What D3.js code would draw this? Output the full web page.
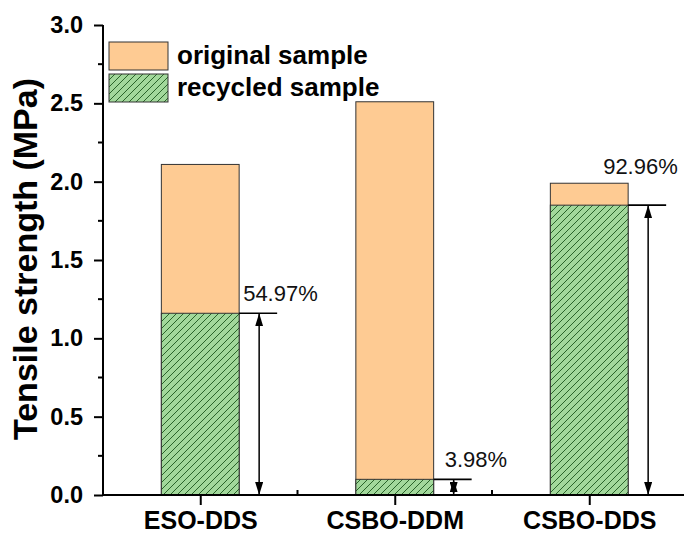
<!DOCTYPE html>
<html>
<head>
<meta charset="utf-8">
<script src="https://cdn.jsdelivr.net/npm/d3@7/dist/d3.min.js"></script>
<style>
  html, body { margin: 0; padding: 0; background: #fff; }
  svg { display: block; font-family: "Liberation Sans", Arial, sans-serif; }
</style>
</head>
<body>
<svg id="chart" width="684" height="535"></svg>
<script>
// Tensile strength of original vs. recycled samples
const categories = ["ESO-DDS", "CSBO-DDM", "CSBO-DDS"];
const originalValues = [2.11, 2.51, 1.99];
const recycledValues = [1.16, 0.10, 1.85];
const retentionLabels = ["54.97%", "3.98%", "92.96%"];
const yTicks = [0, 0.5, 1.0, 1.5, 2.0, 2.5, 3.0];
const yMinorTicks = [0.25, 0.75, 1.25, 1.75, 2.25, 2.75];
const seriesNames = ["original sample", "recycled sample"];

// label placement relative to the bar's right edge / recycled top
const labelOffsets = [[4, -12], [11, -12], [-25, -31]];

const svg = d3.select("#chart");
const plotLeft = 103, plotRight = 686.5, plotTop = 25, plotBottom = 495;

const x = d3.scalePoint().domain(categories).range([plotLeft, plotRight]).padding(0.5);
const step = x.step();
const barW = step * 0.4;
const y = d3.scaleLinear().domain([0, 3]).range([plotBottom, plotTop]);

const origFill = "#fecb93";
const recFill = "#a2d89b";
const hatchColor = "#2a642a";

// diagonal hatch for recycled bars
const defs = svg.append("defs");
const pat = defs.append("pattern")
  .attr("id", "hatch").attr("patternUnits", "userSpaceOnUse")
  .attr("width", 7).attr("height", 7);
pat.append("rect").attr("width", 7).attr("height", 7).attr("fill", recFill);
pat.append("path")
  .attr("d", "M-1,1 l2,-2 M0,7 l7,-7 M6,8 l2,-2")
  .attr("stroke", hatchColor).attr("stroke-width", 1);

const arrowHead = (id, orient) => defs.append("marker")
  .attr("id", id).attr("viewBox", "0 0 13 8")
  .attr("refX", 13).attr("refY", 4)
  .attr("markerWidth", 13).attr("markerHeight", 8)
  .attr("markerUnits", "userSpaceOnUse")
  .attr("orient", orient)
  .append("path").attr("d", "M0,0 L13,4 L0,8 Z").attr("fill", "#000");
arrowHead("arrowEnd", "auto");
arrowHead("arrowStart", "auto-start-reverse");

// bars: original behind, recycled in front
const g = svg.append("g");
g.selectAll("rect.orig").data(categories).join("rect")
  .attr("class", "orig")
  .attr("x", d => x(d) - barW / 2)
  .attr("width", barW)
  .attr("y", (d, i) => y(originalValues[i]))
  .attr("height", (d, i) => y(0) - y(originalValues[i]))
  .attr("fill", origFill).attr("stroke", "#333").attr("stroke-width", 1);

g.selectAll("rect.rec").data(categories).join("rect")
  .attr("class", "rec")
  .attr("x", d => x(d) - barW / 2)
  .attr("width", barW)
  .attr("y", (d, i) => y(recycledValues[i]))
  .attr("height", (d, i) => y(0) - y(recycledValues[i]))
  .attr("fill", "url(#hatch)").attr("stroke", "#333").attr("stroke-width", 1);

// retention annotations: reference line, double arrow, percentage
const ann = svg.append("g");
categories.forEach((c, i) => {
  const xr = x(c) + barW / 2;
  const yv = y(recycledValues[i]);
  ann.append("line")
    .attr("x1", xr).attr("x2", xr + 38).attr("y1", yv).attr("y2", yv)
    .attr("stroke", "#000").attr("stroke-width", 1.6);
  ann.append("line")
    .attr("x1", xr + 20).attr("x2", xr + 20)
    .attr("y1", yv).attr("y2", y(0))
    .attr("stroke", "#000").attr("stroke-width", 1.5)
    .attr("marker-start", "url(#arrowStart)")
    .attr("marker-end", "url(#arrowEnd)");
  ann.append("text")
    .attr("x", xr + labelOffsets[i][0]).attr("y", yv + labelOffsets[i][1])
    .attr("font-size", 22).attr("fill", "#111")
    .text(retentionLabels[i]);
});

// y axis
const yAxis = svg.append("g").attr("transform", `translate(${plotLeft},0)`);
yAxis.call(d3.axisLeft(y).tickValues(yTicks).tickFormat(d3.format(".1f"))
  .tickSize(9).tickPadding(11));
yAxis.selectAll(".tick line").attr("stroke", "#000").attr("stroke-width", 2);
yAxis.select(".domain").attr("stroke", "#000").attr("stroke-width", 2)
  .attr("d", `M0,${plotTop}V${plotBottom}`);
yAxis.selectAll("text").attr("font-size", 23.5).attr("font-weight", "bold")
  .attr("fill", "#000").attr("font-family", "Liberation Sans, Arial, sans-serif");
yAxis.selectAll("line.minor").data(yMinorTicks).join("line")
  .attr("class", "minor")
  .attr("x1", 0).attr("x2", -5)
  .attr("y1", d => y(d)).attr("y2", d => y(d))
  .attr("stroke", "#000").attr("stroke-width", 2);

// x axis
const xAxis = svg.append("g").attr("transform", `translate(0,${plotBottom})`);
xAxis.call(d3.axisBottom(x).tickSize(10).tickPadding(6));
xAxis.select(".domain").attr("stroke", "#000").attr("stroke-width", 2)
  .attr("d", `M${plotLeft - 1},0H${plotRight}`);
xAxis.selectAll(".tick line").attr("stroke", "#000").attr("stroke-width", 2);
xAxis.selectAll("text").attr("font-size", 25).attr("font-weight", "bold")
  .attr("fill", "#000").attr("font-family", "Liberation Sans, Arial, sans-serif");
xAxis.selectAll("line.minor").data(categories.slice(1)).join("line")
  .attr("class", "minor")
  .attr("x1", d => x(d) - step / 2).attr("x2", d => x(d) - step / 2)
  .attr("y1", 0).attr("y2", -5)
  .attr("stroke", "#000").attr("stroke-width", 2);

// y axis title
svg.append("text")
  .attr("transform", `translate(37,${(plotTop + plotBottom) / 2 - 1}) rotate(-90)`)
  .attr("text-anchor", "middle")
  .attr("font-size", 34).attr("font-weight", "bold").attr("fill", "#000")
  .text("Tensile strength (MPa)");

// legend
const legend = svg.append("g");
const legFills = [origFill, "url(#hatch)"];
seriesNames.forEach((name, i) => {
  legend.append("rect")
    .attr("x", 109).attr("y", 42 + i * 32)
    .attr("width", 59).attr("height", 28)
    .attr("fill", legFills[i]).attr("stroke", "#333").attr("stroke-width", 1);
  legend.append("text")
    .attr("x", 177).attr("y", 64 + i * 32)
    .attr("font-size", 26).attr("font-weight", "bold").attr("fill", "#000")
    .text(name);
});
</script>
</body>
</html>
